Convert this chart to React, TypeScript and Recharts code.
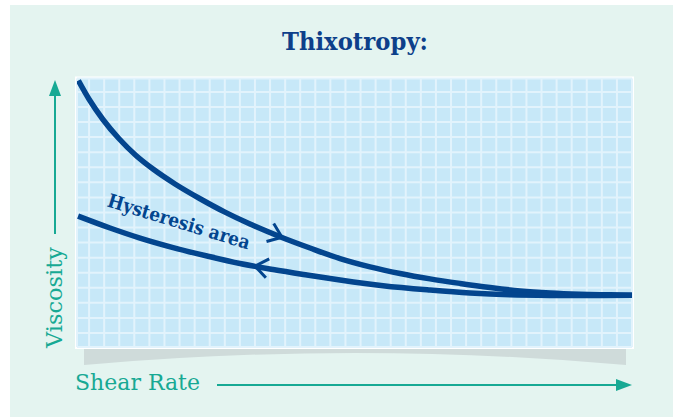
import { LineChart, Line, XAxis, YAxis, CartesianGrid, ReferenceDot } from 'recharts';

// shear rate / viscosity, in grid-cell units
const shearUp = [0.09, 0.8, 1.72, 2.79, 3.91, 5.04, 6.5, 8.16, 9.81, 11.47, 13.59, 15.45, 17.44, 19.43, 21.42, 23.41, 25.4, 27.39, 29.38, 31.37, 33.36, 35.34, 36.8];
const viscosityUp = [17.68, 16.44, 15.1, 13.82, 12.71, 11.81, 10.82, 9.84, 8.95, 8.16, 7.27, 6.57, 5.87, 5.32, 4.88, 4.52, 4.22, 3.95, 3.72, 3.58, 3.5, 3.46, 3.43];
const shearDown = [0.07, 2.19, 4.18, 6.37, 8.62, 10.81, 13.0, 15.25, 17.44, 20.29, 23.41, 26.06, 28.71, 31.37, 34.02, 36.8];
const viscosityDown = [8.69, 7.9, 7.23, 6.6, 6.04, 5.54, 5.14, 4.78, 4.45, 4.07, 3.78, 3.58, 3.46, 3.42, 3.41, 3.43];

// direction markers on each curve and the label position
const arrowUp = { x: 13.59, y: 7.28 };
const arrowDown = { x: 11.8, y: 5.37 };
const labelPos = { x: 6.63, y: 7.9 };

const xGridTicks = Array.from({ length: 36 }, (_, i) => 0.8 + i);
const yGridTicks = Array.from({ length: 17 }, (_, i) => 0.93 + i);

const upData = shearUp.map((x, i) => ({ x, y: viscosityUp[i] }));
const downData = shearDown.map((x, i) => ({ x, y: viscosityDown[i] }));

const NAVY = '#03458e';
const TEAL = '#17a994';

const chevron = (dir: number) => (props: any) => {
  const { cx, cy } = props;
  const back = ((dir + 180) * Math.PI) / 180;
  const h = (37 * Math.PI) / 180;
  const L = 16;
  const x1 = cx + L * Math.cos(back - h);
  const y1 = cy + L * Math.sin(back - h);
  const x2 = cx + L * Math.cos(back + h);
  const y2 = cy + L * Math.sin(back + h);
  return <path d={`M${x1},${y1} L${cx},${cy} L${x2},${y2}`} stroke={NAVY} strokeWidth={3} fill="none" />;
};

const hysteresisLabel = (props: any) => (
  <text
    x={props.cx}
    y={props.cy}
    transform={`rotate(17 ${props.cx} ${props.cy})`}
    textAnchor="middle"
    fontFamily="DejaVu Serif"
    fontWeight="bold"
    fontSize={19}
    fill={NAVY}
    textLength={148}
    lengthAdjust="spacingAndGlyphs"
  >
    Hysteresis area
  </text>
);

export default function App() {
  return (
    <div style={{ position: 'absolute', left: 0, top: 0, width: 673, height: 417, background: '#fff' }}>
      <svg width={673} height={417} style={{ position: 'absolute', left: 0, top: 0 }}>
        <rect x={10} y={5} width={663} height={412} fill="#e4f4f0" />
        <path d="M84,349 L626,349 L626,365 Q355,341 84,365 Z" fill="#cfdbda" />
        <rect x={75} y={76.5} width={559} height={272.5} fill="#fff" />
        <text
          x={355}
          y={50}
          textAnchor="middle"
          fontFamily="DejaVu Serif"
          fontWeight="bold"
          fontSize={25}
          fill="#0d3f8a"
          textLength={146}
          lengthAdjust="spacingAndGlyphs"
        >
          Thixotropy:
        </text>
        <text
          x={61.5}
          y={297.5}
          transform="rotate(-90 61.5 297.5)"
          textAnchor="middle"
          fontFamily="DejaVu Serif"
          fontSize={23}
          fill={TEAL}
          textLength={101}
          lengthAdjust="spacingAndGlyphs"
        >
          Viscosity
        </text>
        <line x1={55} y1={234} x2={55} y2={94} stroke={TEAL} strokeWidth={2} />
        <path d="M55,80 L61,96 L49,96 Z" fill={TEAL} />
        <text
          x={75}
          y={390}
          fontFamily="DejaVu Serif"
          fontSize={23}
          fill={TEAL}
          textLength={125}
          lengthAdjust="spacingAndGlyphs"
        >
          Shear Rate
        </text>
        <line x1={217} y1={385} x2={618} y2={385} stroke={TEAL} strokeWidth={2} />
        <path d="M632,385 L616,379 L616,391 Z" fill={TEAL} />
      </svg>
      <div style={{ position: 'absolute', left: 0, top: 0 }}>
        <LineChart width={673} height={417} margin={{ top: 78.5, right: 41, bottom: 70, left: 77 }}>
          <CartesianGrid fill="#c7e8f8" stroke="#e2f3fc" strokeWidth={2} strokeOpacity={1} />
          <XAxis type="number" dataKey="x" domain={[0, 36.8]} ticks={xGridTicks} interval={0} hide allowDataOverflow />
          <YAxis type="number" dataKey="y" domain={[0, 17.82]} ticks={yGridTicks} interval={0} hide allowDataOverflow />
          <Line data={upData} dataKey="y" type="monotone" stroke={NAVY} strokeWidth={5.5} dot={false} isAnimationActive={false} />
          <Line data={downData} dataKey="y" type="monotone" stroke={NAVY} strokeWidth={5.5} dot={false} isAnimationActive={false} />
          <ReferenceDot x={arrowUp.x} y={arrowUp.y} shape={chevron(22)} />
          <ReferenceDot x={arrowDown.x} y={arrowDown.y} shape={chevron(190)} />
          <ReferenceDot x={labelPos.x} y={labelPos.y} shape={hysteresisLabel} />
        </LineChart>
      </div>
    </div>
  );
}
